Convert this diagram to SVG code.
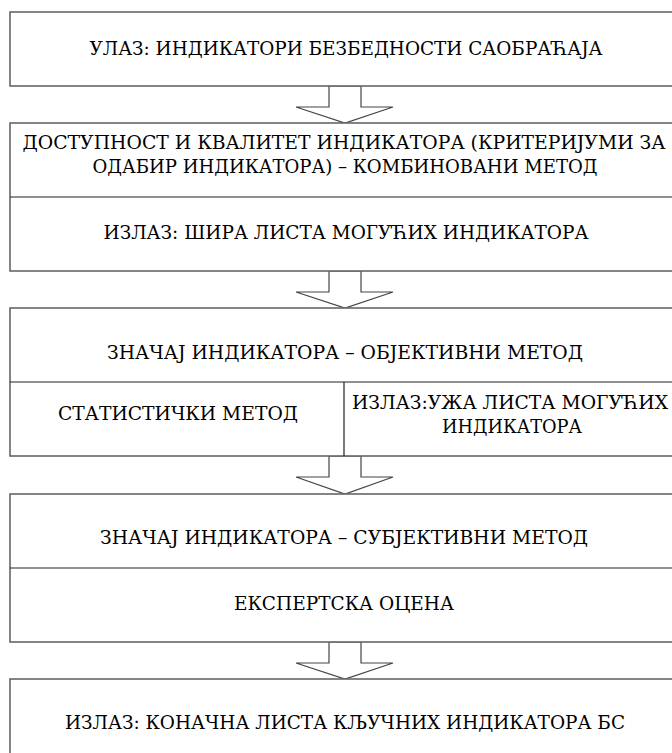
<svg xmlns="http://www.w3.org/2000/svg" width="672" height="753" viewBox="0 0 672 753">
  <style>
    .box { fill: #ffffff; stroke: #666666; stroke-width: 1.6; }
    .div { fill: none; stroke: #222222; stroke-width: 1.2; }
    .arrow { fill: #ffffff; stroke: #444444; stroke-width: 1.2; stroke-linejoin: miter; }
    text { font-family: "DejaVu Serif", "Liberation Serif", serif; font-size: 19px; fill: #000000; text-anchor: middle; }
  </style>
  <rect width="672" height="753" fill="#ffffff"/>

  <g id="connectors">
    <polygon class="arrow" points="329,86 329,107 296,107 345,123 393,107 361,107 361,86"/>
    <polygon class="arrow" points="329,271 329,292 296,292 345,308 393,292 361,292 361,271"/>
    <polygon class="arrow" points="329,456 329,477 296,477 345,494 393,477 361,477 361,456"/>
    <polygon class="arrow" points="329,642 329,663 296,663 345,679 393,663 361,663 361,642"/>
  </g>

  <g id="input">
    <rect class="box" x="10" y="12" width="680" height="74"/>
    <text x="346" y="55" textLength="513" lengthAdjust="spacingAndGlyphs">УЛАЗ: ИНДИКАТОРИ БЕЗБЕДНОСТИ САОБРАЋАЈА</text>
  </g>

  <g id="availability">
    <rect class="box" x="10" y="123" width="680" height="148"/>
    <line class="div" x1="10" y1="197" x2="690" y2="197"/>
    <text x="344" y="149" textLength="643" lengthAdjust="spacingAndGlyphs">ДОСТУПНОСТ И КВАЛИТЕТ ИНДИКАТОРА (КРИТЕРИЈУМИ ЗА</text>
    <text x="345" y="173" textLength="505" lengthAdjust="spacingAndGlyphs">ОДАБИР ИНДИКАТОРА) – КОМБИНОВАНИ МЕТОД</text>
    <text x="346" y="239" textLength="485" lengthAdjust="spacingAndGlyphs">ИЗЛАЗ: ШИРА ЛИСТА МОГУЋИХ ИНДИКАТОРА</text>
  </g>

  <g id="objective">
    <rect class="box" x="10" y="308" width="680" height="148"/>
    <line class="div" x1="10" y1="382" x2="690" y2="382"/>
    <line class="div" x1="344" y1="382" x2="344" y2="456"/>
    <text x="345" y="359" textLength="476" lengthAdjust="spacingAndGlyphs">ЗНАЧАЈ ИНДИКАТОРА – ОБЈЕКТИВНИ МЕТОД</text>
    <text x="178" y="420" textLength="240" lengthAdjust="spacingAndGlyphs">СТАТИСТИЧКИ МЕТОД</text>
    <text x="510" y="409" textLength="316" lengthAdjust="spacingAndGlyphs">ИЗЛАЗ:УЖА ЛИСТА МОГУЋИХ</text>
    <text x="512" y="433" textLength="140" lengthAdjust="spacingAndGlyphs">ИНДИКАТОРА</text>
  </g>

  <g id="subjective">
    <rect class="box" x="10" y="494" width="680" height="148"/>
    <line class="div" x1="10" y1="568" x2="690" y2="568"/>
    <text x="344" y="544" textLength="488" lengthAdjust="spacingAndGlyphs">ЗНАЧАЈ ИНДИКАТОРА – СУБЈЕКТИВНИ МЕТОД</text>
    <text x="344" y="610" textLength="220" lengthAdjust="spacingAndGlyphs">ЕКСПЕРТСКА ОЦЕНА</text>
  </g>

  <g id="output">
    <rect class="box" x="10" y="679" width="680" height="100"/>
    <text x="345" y="729" textLength="560" lengthAdjust="spacingAndGlyphs">ИЗЛАЗ: КОНАЧНА ЛИСТА КЉУЧНИХ ИНДИКАТОРА БС</text>
  </g>
</svg>
